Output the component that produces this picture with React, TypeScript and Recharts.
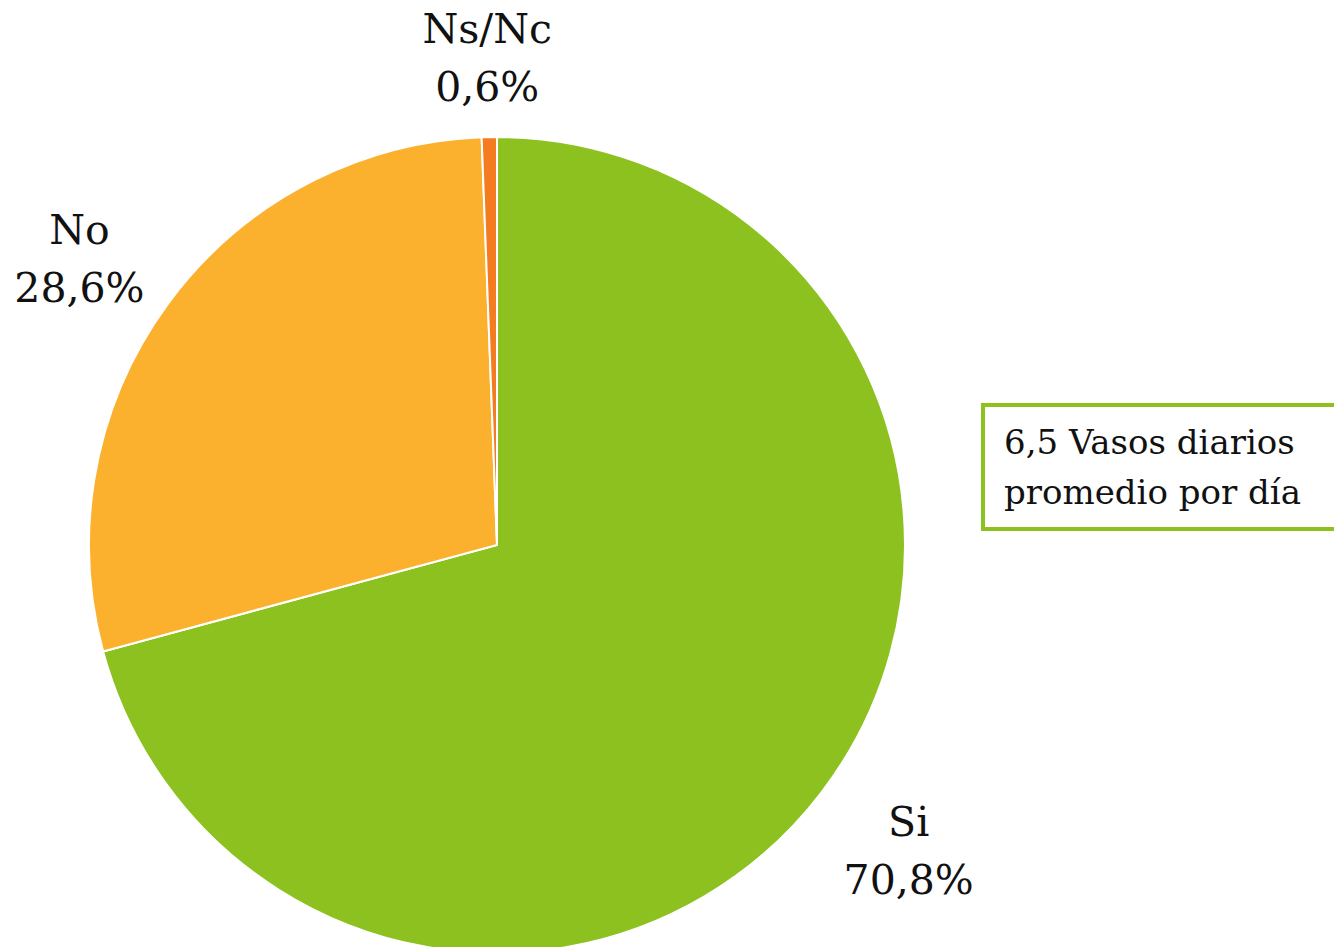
import { PieChart, Pie, Cell } from 'recharts';

const categorias = ['Si', 'No', 'Ns/Nc'];
const porcentajes = [70.8, 28.6, 0.6];
const colores = ['#8CC11F', '#FBB12E', '#F47B20'];
const notaLineas = ['6,5 Vasos diarios', 'promedio por día'];

const datos = categorias.map((nombre, i) => ({ nombre, valor: porcentajes[i] }));

const RAD = Math.PI / 180;
const FUENTE = 'DejaVu Serif, serif';

const formato = (v: number) => v.toFixed(1).replace('.', ',') + '%';

// etiqueta fuera del borde, con la caja pegada al punto de anclaje
const Etiqueta = (props: any) => {
  const { cx, cy, midAngle, outerRadius, payload } = props;
  const dx = Math.cos(-midAngle * RAD);
  const dy = Math.sin(-midAngle * RAD);
  const r = outerRadius + 28;
  const px = cx + r * dx;
  const py = cy + r * dy;
  const ancho = 165;
  const alto = 114;
  const bx = px + dx * ancho / 2;
  const by = py + dy * alto / 2;
  return (
    <text x={bx} y={by} textAnchor="middle" fill="#111" fontFamily={FUENTE} fontSize={41}>
      <tspan x={bx} dy={-9}>{payload.nombre}</tspan>
      <tspan x={bx} dy={58}>{formato(payload.valor)}</tspan>
    </text>
  );
};

export default function App() {
  return (
    <div style={{ position: 'absolute', left: 0, top: 0, width: 1334, height: 947, background: '#fff', overflow: 'hidden' }}>
      <PieChart width={1334} height={947} margin={{ top: 0, right: 0, bottom: 0, left: 0 }}>
        <Pie
          data={datos}
          dataKey="valor"
          nameKey="nombre"
          cx={497}
          cy={545}
          outerRadius={408}
          startAngle={90}
          endAngle={-270}
          stroke="#fff"
          strokeWidth={2}
          label={Etiqueta}
          labelLine={false}
          isAnimationActive={false}
        >
          {datos.map((d, i) => (
            <Cell key={d.nombre} fill={colores[i]} />
          ))}
        </Pie>
      </PieChart>
      <div
        style={{
          position: 'absolute',
          left: 981,
          top: 403,
          width: 400,
          height: 110,
          border: '4.5px solid #8CC11F',
          boxSizing: 'content-box',
          fontFamily: FUENTE,
          fontSize: 34,
          lineHeight: '50px',
          color: '#111',
          padding: '10px 0 0 19px',
          whiteSpace: 'nowrap',
        }}
      >
        {notaLineas.map((l) => (
          <div key={l}>{l}</div>
        ))}
      </div>
    </div>
  );
}
